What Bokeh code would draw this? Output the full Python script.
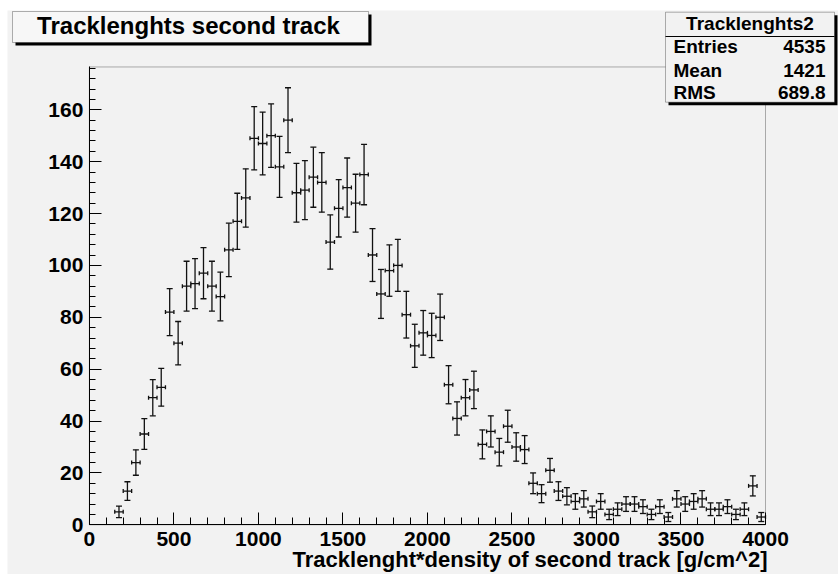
import numpy as np
from bokeh.plotting import figure
from bokeh.models import (ColumnDataSource, Whisker, TeeHead, Label, BoxAnnotation,
                          FixedTicker, LinearAxis, Range1d)
from bokeh.embed import file_html
from bokeh.resources import INLINE

# ---------------- data ----------------
bin_centers = [175, 225, 275, 325, 375, 425, 475, 525, 575, 625, 675, 725, 775, 825,
               875, 925, 975, 1025, 1075, 1125, 1175, 1225, 1275, 1325, 1375, 1425,
               1475, 1525, 1575, 1625, 1675, 1725, 1775, 1825, 1875, 1925, 1975, 2025,
               2075, 2125, 2175, 2225, 2275, 2325, 2375, 2425, 2475, 2525, 2575, 2625,
               2675, 2725, 2775, 2825, 2875, 2925, 2975, 3025, 3075, 3125, 3175, 3225,
               3275, 3325, 3375, 3425, 3475, 3525, 3575, 3625, 3675, 3725, 3775, 3825,
               3875, 3925, 3975]
counts = [5, 13, 24, 35, 49, 53, 82, 70, 92, 93, 97, 92, 88, 106,
          117, 126, 149, 147, 150, 138, 156, 128, 129, 134, 132, 109,
          122, 130, 124, 135, 104, 89, 98, 100, 81, 69, 74, 73,
          80, 54, 41, 49, 52, 31, 36, 28, 38, 30, 29, 16,
          12, 21, 13, 11, 9, 10, 5, 9, 4, 6, 8, 8,
          7, 4, 7, 3, 10, 8, 9, 10, 6, 6, 7, 4,
          6, 15, 3]
bin_width = 50
x_ticks = [0, 500, 1000, 1500, 2000, 2500, 3000, 3500, 4000]
y_ticks = [0, 20, 40, 60, 80, 100, 120, 140, 160]
x_lim = (0, 4000)
y_lim = (0, 176.5)

title_text = "Tracklenghts second track"
x_title = "Tracklenght*density of second track [g/cm^2]"
stats_name = "Tracklenghts2"
stats_labels = ["Entries", "Mean", "RMS"]
stats_values = ["4535", "1421", "689.8"]

# ---------------- layout (pixel geometry in picture coordinates) ----------------
W, H = 838, 574
ML, MT = 7, 10                                   # white strip left / top
PX_PER_Y = 2.594                                 # picture px per count
FL, FR, FB = 88.9, 765.0, 524.3                  # ROOT frame in picture px
FT = FB - (y_lim[1] - y_lim[0]) * PX_PER_Y
BG = "#f2f2f2"
FONT = "Liberation Sans"
BASE_FIX = 0.34                                  # empirical baseline correction (em)


def dx(sx):
    return x_lim[0] + (sx - FL) / (FR - FL) * (x_lim[1] - x_lim[0])


def dy(sy):
    return y_lim[0] + (FB - sy) / (FB - FT) * (y_lim[1] - y_lim[0])


def text_at(sx, baseline_sy, txt, size, align):
    return Label(x=dx(sx), y=dy(baseline_sy - BASE_FIX * size), text=txt, text_align=align,
                 text_baseline="alphabetic", text_font=FONT, text_font_style="bold",
                 text_font_size=f"{size}px", text_color="black")


p = figure(width=W, height=H, x_range=Range1d(dx(ML), dx(W)), y_range=Range1d(dy(H), dy(MT)),
           output_backend="svg", toolbar_location=None,
           x_axis_location=None, y_axis_location=None, min_border=0,
           min_border_left=ML, min_border_top=MT)
p.background_fill_color = BG
p.border_fill_color = "white"
p.outline_line_color = None
p.xgrid.visible = False
p.ygrid.visible = False

# ROOT frame
p.add_layout(BoxAnnotation(left=x_lim[0], right=x_lim[1], bottom=y_lim[0], top=y_lim[1],
                           fill_alpha=0, line_color="black", line_width=1))

xax = LinearAxis(fixed_location=y_lim[0], bounds=x_lim,
                 ticker=FixedTicker(ticks=x_ticks, minor_ticks=list(range(0, 4001, 100))))
yax = LinearAxis(fixed_location=x_lim[0], bounds=y_lim,
                 ticker=FixedTicker(ticks=y_ticks, minor_ticks=list(range(0, 177, 4))))
for ax in (xax, yax):
    ax.axis_line_color = "black"
    ax.major_tick_line_color = "black"
    ax.minor_tick_line_color = "black"
    ax.major_tick_out = 0
    ax.minor_tick_out = 0
    ax.major_label_text_font = FONT
    ax.major_label_text_font_style = "bold"
    ax.major_label_text_font_size = "21px"
    ax.major_label_text_color = "black"
xax.major_tick_in = 12
xax.minor_tick_in = 7
yax.major_tick_in = 12
yax.minor_tick_in = 6
xax.major_label_standoff = 7
yax.major_label_standoff = 6
p.add_layout(xax, "below")
p.add_layout(yax, "left")

# ---------------- error bars ----------------
c = np.array(bin_centers, dtype=float)
n = np.array(counts, dtype=float)
e = np.sqrt(n)
src = ColumnDataSource(dict(x=c, y=n, lo=n - e, hi=n + e,
                            xl=c - bin_width / 2, xr=c + bin_width / 2))
LC, LW = "#111111", 1.3
vw = Whisker(base="x", upper="hi", lower="lo", source=src, dimension="height",
             line_color=LC, line_width=LW,
             upper_head=TeeHead(size=6, line_color=LC, line_width=LW),
             lower_head=TeeHead(size=6, line_color=LC, line_width=LW))
hw = Whisker(base="y", upper="xr", lower="xl", source=src, dimension="width",
             line_color=LC, line_width=LW,
             upper_head=TeeHead(size=4, line_color=LC, line_width=LW),
             lower_head=TeeHead(size=4, line_color=LC, line_width=LW))
p.add_layout(vw)
p.add_layout(hw)

# ---------------- title box ----------------
sh = 3
p.add_layout(BoxAnnotation(left=dx(12 + sh), right=dx(368 + sh), top=dy(11 + sh), bottom=dy(42 + sh),
                           fill_color="black", fill_alpha=1, line_color=None))
p.add_layout(BoxAnnotation(left=dx(12), right=dx(368), top=dy(11), bottom=dy(42),
                           fill_color="#f7f7f7", fill_alpha=1, line_color="black", line_width=1))
p.add_layout(text_at(188, 33.3, title_text, 24, "center"))

# ---------------- stats box ----------------
p.add_layout(BoxAnnotation(left=dx(665 + sh), right=dx(834 + sh), top=dy(11.7 + sh), bottom=dy(101.7 + sh),
                           fill_color="black", fill_alpha=1, line_color=None))
p.add_layout(BoxAnnotation(left=dx(665), right=dx(834), top=dy(11.7), bottom=dy(101.7),
                           fill_color=BG, fill_alpha=1, line_color="black", line_width=1))
p.add_layout(BoxAnnotation(left=dx(665), right=dx(834), top=dy(35.5), bottom=dy(36.5),
                           fill_color="black", fill_alpha=1, line_color=None))
p.add_layout(text_at(749.5, 29.3, stats_name, 19, "center"))
row_base = [52.7, 76.0, 98.3]
for lab, val, sy in zip(stats_labels, stats_values, row_base):
    p.add_layout(text_at(673, sy, lab, 19, "left"))
    p.add_layout(text_at(825, sy, val, 19, "right"))

# ---------------- x axis title ----------------
p.add_layout(text_at(767, 566.5, x_title, 22, "right"))

open("out.html", "w").write(file_html(p, INLINE))
